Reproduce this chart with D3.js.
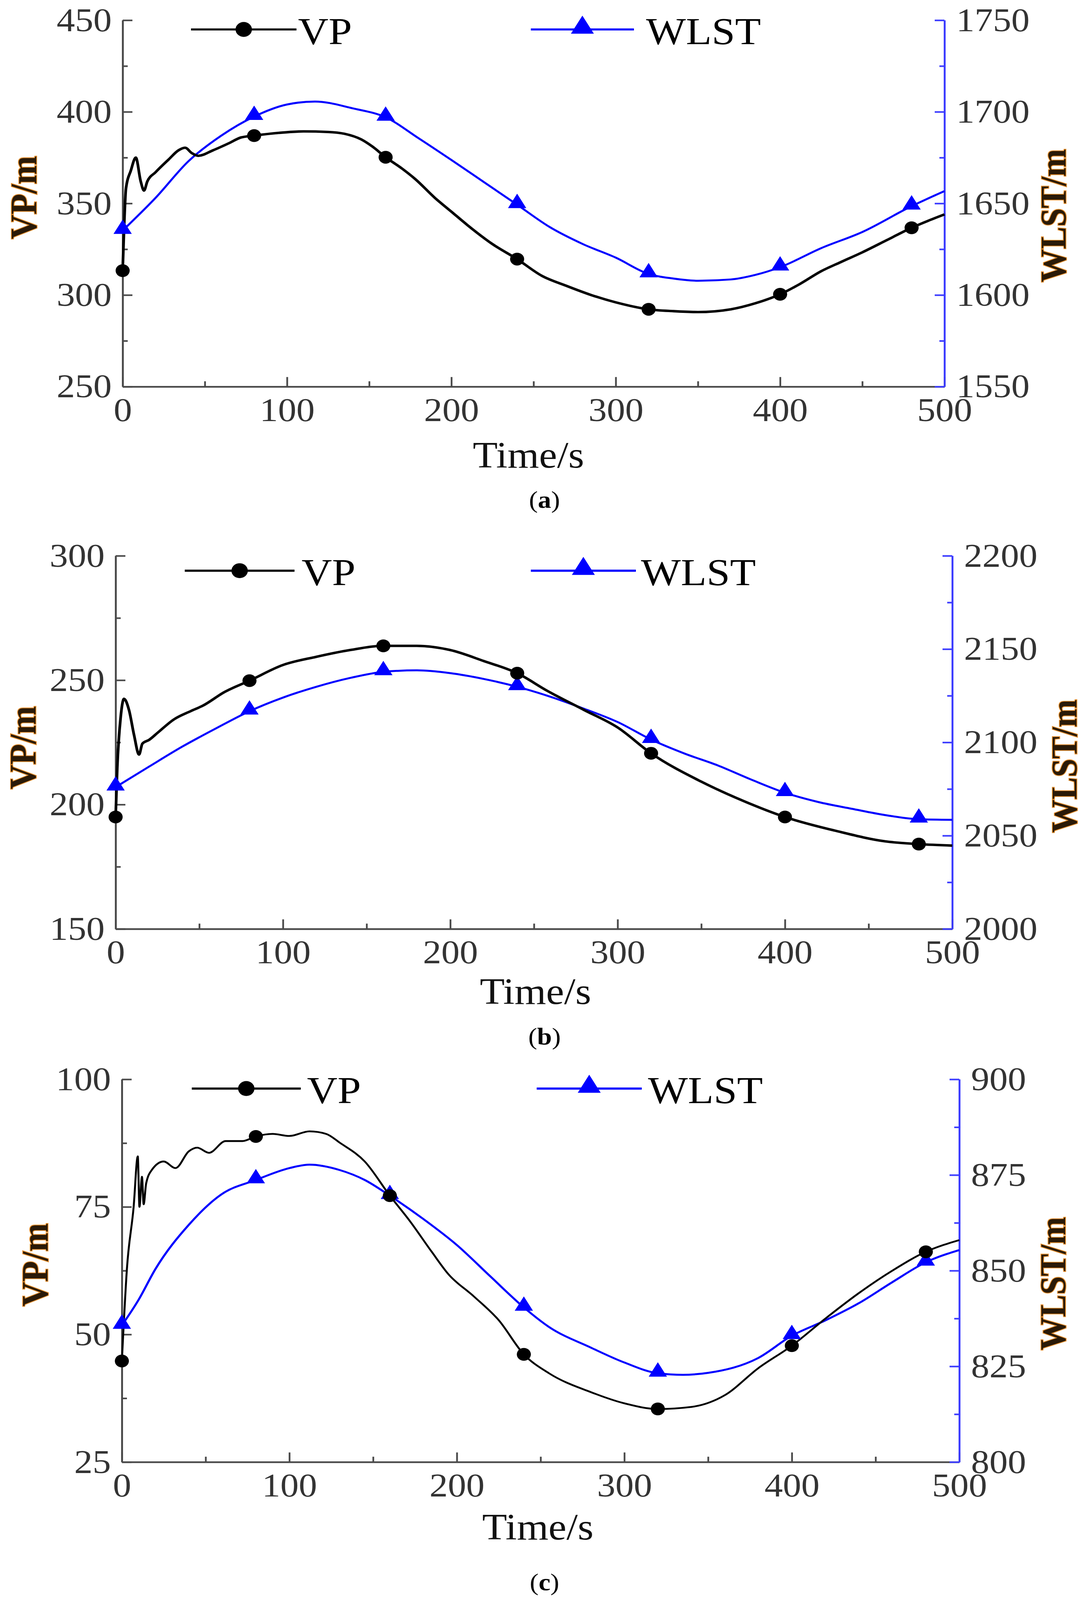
<html>
<script src="https://d3js.org/d3.v7.min.js"></script>
<style>
    html, body { margin: 0; padding: 0; background: #fff; overflow: hidden; }
    svg { display: block; }
    text { font-family: 'Liberation Serif', 'Times New Roman', serif; }
</style>
<body>
<svg id="chart" viewBox="0 0 2788 4511" preserveAspectRatio="none"></svg>
<script>

// shared
const xTicks = [0, 100, 200, 300, 400, 500];
const xMinor = [50, 150, 250, 350, 450];
const markerTimes = [0, 80, 160, 240, 320, 400, 480];
const seriesNames = ["VP", "WLST"];

// (a)
const vpTicksA = [250, 300, 350, 400, 450];
const wlstTicksA = [1550, 1600, 1650, 1700, 1750];
const timeVpA = [0, 1, 2, 5, 8, 11, 13, 15, 20, 28, 34, 38, 42, 46, 55, 65, 72, 80, 95, 110, 125, 135, 145, 152, 160, 170, 178, 190, 200, 210, 225, 240, 255, 270, 285, 300, 320, 335, 350, 370, 385, 400, 412, 425, 437, 450, 465, 480, 490, 500];
const vpA = [313.3, 340, 358, 368, 375, 362, 357, 362, 367, 374, 379, 380.4, 377.5, 376, 379, 383, 386, 387, 388.5, 389.3, 389, 388, 385, 381, 375.2, 369, 363.3, 353, 345.5, 338, 327.8, 319.6, 310.5, 305, 300, 296, 292.2, 291.2, 290.7, 292.2, 295.5, 300.4, 306, 313, 318, 323.3, 330, 336.7, 340.5, 344];
const timeWlstA = [0, 20, 40, 60, 80, 100, 117, 140, 160, 180, 200, 220, 240, 260, 280, 300, 320, 335, 350, 370, 385, 400, 425, 450, 480, 500];
const wlstA = [1635.2, 1653, 1673, 1687, 1697.4, 1704, 1705.6, 1701.9, 1697, 1685.6, 1673.7, 1661.5, 1649.3, 1637, 1627.8, 1620.4, 1611.5, 1609, 1607.8, 1608.5, 1611, 1615.2, 1625.6, 1634.4, 1648.5, 1656.7];

// (b)
const vpTicksB = [150, 200, 250, 300];
const wlstTicksB = [2000, 2050, 2100, 2150, 2200];
const timeVpB = [0, 1, 3, 5, 8, 11, 14, 16, 20, 25, 35, 45, 52, 65, 80, 100, 120, 140, 160, 180, 200, 220, 240, 258, 280, 300, 320, 350, 375, 400, 430, 460, 480, 500];
const vpB = [195, 215, 235, 242.5, 238, 228, 220.1, 224.5, 226, 228.8, 234.3, 237.6, 239.7, 245.2, 249.8, 256.1, 259.4, 262.1, 263.8, 263.8, 262.1, 257.7, 252.8, 245.7, 238, 231, 220.6, 209.2, 201.5, 195, 189.5, 185.2, 184.1, 183.5];
const timeWlstB = [0, 20, 40, 60, 80, 100, 120, 140, 160, 180, 200, 220, 240, 258, 280, 300, 320, 340, 360, 380, 400, 420, 440, 460, 480, 500];
const wlstB = [2076, 2087, 2097.8, 2107.5, 2116.7, 2124, 2129.8, 2134.5, 2137.8, 2138.6, 2137.1, 2134, 2129.8, 2125, 2118, 2110.9, 2101.5, 2094, 2087.6, 2080, 2073, 2068, 2064.4, 2061, 2058.8, 2058.5];

// (c)
const vpTicksC = [25, 50, 75, 100];
const wlstTicksC = [800, 825, 850, 875, 900];
const timeVpC = [0, 3, 7, 9.5, 10.5, 12, 13, 14.5, 18, 25, 32, 40, 45, 52, 62, 72, 80, 90, 100, 112, 122, 130, 145, 160, 172, 185, 195, 210, 225, 240, 255, 280, 300, 320, 340, 360, 380, 400, 420, 440, 460, 480, 500];
const vpC = [44.8, 62.8, 74.9, 84.9, 75, 80.9, 75.5, 79.6, 82.3, 83.9, 82.6, 85.9, 86.6, 85.6, 87.9, 87.9, 88.8, 89.3, 88.9, 89.8, 89.3, 87.6, 83.9, 77.2, 72.2, 66.2, 61.8, 57.5, 52.8, 46.1, 42.4, 38.7, 36.5, 35.4, 35.8, 38.1, 43.4, 47.8, 53.1, 58.1, 62.5, 66.2, 68.5];
const timeWlstC = [0, 10, 20, 40, 60, 80, 100, 112, 130, 145, 160, 180, 200, 220, 240, 255, 280, 300, 320, 335, 350, 380, 400, 420, 440, 460, 480, 500];
const wlstC = [835.7, 842.4, 850.4, 862, 870.1, 873.7, 876.8, 877.7, 876.3, 873.7, 869.6, 863.5, 856.7, 848.5, 840.4, 835.3, 829.9, 826, 823.2, 822.8, 823.3, 827.2, 833, 837, 841.5, 847, 852.2, 855.4];

const panels = [
    {label: "a", left: 314, right: 2418, top: 57, bottom: 1090,
     vpTicks: vpTicksA, wlTicks: wlstTicksA, tVp: timeVpA, vp: vpA, tWl: timeWlstA, wl: wlstA,
     leg: {y: 83, vp: [489, 759], vpText: 763, wl: [1359, 1623], wlText: 1654},
     yLab: [64, 557], wLab: [2700, 608], timeX: 1353, timeY: 1318, capY: 1432, vpWidth: 7},
    {label: "b", left: 296, right: 2438, top: 1567, bottom: 2619,
     vpTicks: vpTicksB, wlTicks: wlstTicksB, tVp: timeVpB, vp: vpB, tWl: timeWlstB, wl: wlstB,
     leg: {y: 1609, vp: [473, 754], vpText: 772, wl: [1359, 1628], wlText: 1641},
     yLab: [62, 2108], wLab: [2728, 2160], timeX: 1371, timeY: 2830, capY: 2945, vpWidth: 7},
    {label: "c", left: 312, right: 2456, top: 3043, bottom: 4122,
     vpTicks: vpTicksC, wlTicks: wlstTicksC, tVp: timeVpC, vp: vpC, tWl: timeWlstC, wl: wlstC,
     leg: {y: 3069, vp: [491, 770], vpText: 786, wl: [1374, 1643], wlText: 1659},
     yLab: [93, 3566], wLab: [2699, 3619], timeX: 1377, timeY: 4340, capY: 4484, vpWidth: 5}
];

const svg = d3.select("svg#chart")
    .attr("width", window.innerWidth)
    .attr("height", window.innerHeight);
const axisGrey = "#4a4a4a";
const blue = "#0000ff";
const axisBlue = "#3c3cff";

function midpoints(arr) {
    const out = [];
    for (let i = 0; i < arr.length - 1; i++) out.push((arr[i] + arr[i + 1]) / 2);
    return out;
}

function styleAxis(g, color) {
    g.select(".domain").attr("stroke", color).attr("stroke-width", 4.5);
    g.selectAll(".tick line").attr("stroke", color).attr("stroke-width", 4.5);
    g.selectAll(".tick text").attr("fill", "#333").attr("font-size", 94)
        .attr("font-family", "'Liberation Serif', serif");
}

panels.forEach(p => {
    const g = svg.append("g");

    let x = d3.scaleLinear().domain([0, 500]).range([p.left, p.right]);
    let yVp = d3.scaleLinear().domain(d3.extent(p.vpTicks)).range([p.bottom, p.top]);
    let yWl = d3.scaleLinear().domain(d3.extent(p.wlTicks)).range([p.bottom, p.top]);

    // minor ticks
    g.append("g").attr("transform", "translate(0," + p.bottom + ")")
        .call(d3.axisBottom(x).tickValues(xMinor).tickSizeInner(-15).tickSizeOuter(0).tickFormat(""))
        .call(a => styleAxis(a, axisGrey));
    g.append("g").attr("transform", "translate(" + p.left + ",0)")
        .call(d3.axisLeft(yVp).tickValues(midpoints(p.vpTicks)).tickSizeInner(-13).tickSizeOuter(0).tickFormat(""))
        .call(a => styleAxis(a, axisGrey));
    g.append("g").attr("transform", "translate(" + p.right + ",0)")
        .call(d3.axisRight(yWl).tickValues(midpoints(p.wlTicks)).tickSizeInner(-13).tickSizeOuter(0).tickFormat(""))
        .call(a => styleAxis(a, axisBlue));

    // major ticks
    g.append("g").attr("transform", "translate(0," + p.bottom + ")")
        .call(d3.axisBottom(x).tickValues(xTicks).tickSizeInner(-27).tickSizeOuter(0).tickPadding(30).tickFormat(d3.format("d")))
        .call(a => styleAxis(a, axisGrey));
    g.append("g").attr("transform", "translate(" + p.left + ",0)")
        .call(d3.axisLeft(yVp).tickValues(p.vpTicks).tickSizeInner(-25).tickSizeOuter(0).tickPadding(28).tickFormat(d3.format("d")))
        .call(a => styleAxis(a, axisGrey));
    g.append("g").attr("transform", "translate(" + p.right + ",0)")
        .call(d3.axisRight(yWl).tickValues(p.wlTicks).tickSizeInner(-25).tickSizeOuter(0).tickPadding(30).tickFormat(d3.format("d")))
        .call(a => styleAxis(a, axisBlue));

    // lines
    const vpData = p.tVp.map((t, i) => ({t: t, v: p.vp[i]}));
    const wlData = p.tWl.map((t, i) => ({t: t, v: p.wl[i]}));

    g.append("path").datum(wlData)
        .attr("fill", "none").attr("stroke", blue).attr("stroke-width", 5.5)
        .attr("d", d3.line().x(d => x(d.t)).y(d => yWl(d.v)).curve(d3.curveMonotoneX));
    g.append("path").datum(vpData)
        .attr("fill", "none").attr("stroke", "#000").attr("stroke-width", p.vpWidth)
        .attr("stroke-linejoin", "round")
        .attr("d", d3.line().x(d => x(d.t)).y(d => yVp(d.v)).curve(d3.curveMonotoneX));

    // markers
    g.selectAll(".tri").data(wlData.filter(d => markerTimes.includes(d.t)))
        .enter().append("path").attr("class", "tri")
        .attr("transform", d => "translate(" + x(d.t) + "," + (yWl(d.v) - 4) + ")")
        .attr("d", d3.symbol().type(d3.symbolTriangle).size(950))
        .attr("fill", blue);
    g.selectAll(".dot").data(vpData.filter(d => markerTimes.includes(d.t)))
        .enter().append("circle").attr("class", "dot")
        .attr("cx", d => x(d.t)).attr("cy", d => yVp(d.v)).attr("r", 18)
        .attr("fill", "#000");

    // legend
    const L = p.leg;
    g.append("line").attr("x1", L.vp[0]).attr("x2", L.vp[1]).attr("y1", L.y).attr("y2", L.y)
        .attr("stroke", "#000").attr("stroke-width", 6);
    g.append("circle").attr("cx", (L.vp[0] + L.vp[1]) / 2).attr("cy", L.y).attr("r", 21).attr("fill", "#000");
    g.append("text").attr("x", L.vpText).attr("y", L.y + 41).attr("font-size", 108).attr("fill", "#000").text(seriesNames[0]);

    g.append("line").attr("x1", L.wl[0]).attr("x2", L.wl[1]).attr("y1", L.y).attr("y2", L.y)
        .attr("stroke", blue).attr("stroke-width", 6);
    g.append("path").attr("transform", "translate(" + ((L.wl[0] + L.wl[1]) / 2) + "," + (L.y - 5) + ")")
        .attr("d", d3.symbol().type(d3.symbolTriangle).size(1500)).attr("fill", blue);
    g.append("text").attr("x", L.wlText).attr("y", L.y + 41).attr("font-size", 108).attr("fill", "#000").text(seriesNames[1]);

    // axis titles
    g.append("text")
        .attr("transform", "translate(" + p.yLab[0] + "," + p.yLab[1] + ") rotate(-90)")
        .attr("text-anchor", "middle").attr("dy", "0.3em")
        .attr("font-size", 96).attr("font-weight", "bold")
        .attr("fill", "#2a1a08").attr("stroke", "#e8902e").attr("stroke-width", 4)
        .attr("paint-order", "stroke")
        .text("VP/m");
    g.append("text")
        .attr("transform", "translate(" + p.wLab[0] + "," + p.wLab[1] + ") rotate(-90)")
        .attr("text-anchor", "middle").attr("dy", "0.3em")
        .attr("font-size", 94).attr("font-weight", "bold")
        .attr("fill", "#2a1a08").attr("stroke", "#e8902e").attr("stroke-width", 4)
        .attr("paint-order", "stroke")
        .text("WLST/m");

    g.append("text").attr("x", p.timeX).attr("y", p.timeY)
        .attr("text-anchor", "middle").attr("font-size", 104).attr("fill", "#111")
        .text("Time/s");

    const cap = g.append("text").attr("x", 1394).attr("y", p.capY)
        .attr("text-anchor", "middle").attr("font-size", 68).attr("fill", "#000");
    cap.append("tspan").text("(");
    cap.append("tspan").attr("font-weight", "bold").text(p.label);
    cap.append("tspan").text(")");
});

</script>
</body>
</html>
